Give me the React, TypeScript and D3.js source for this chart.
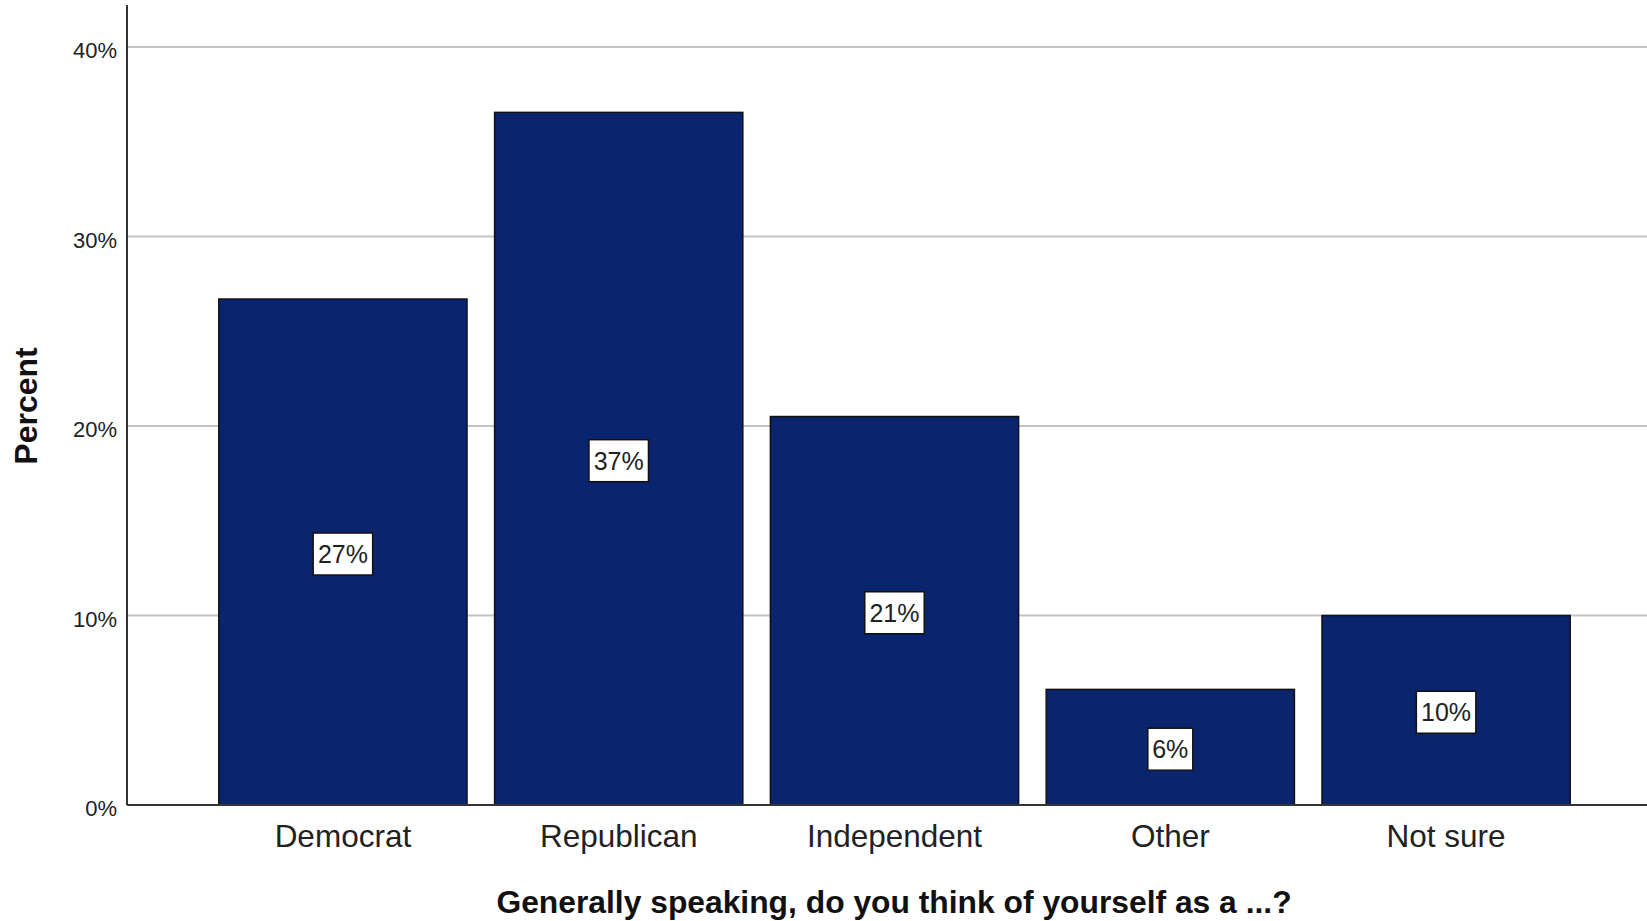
import React from "react";
import * as d3 from "d3";

const categories = ["Democrat", "Republican", "Independent", "Other", "Not sure"];
const percents = [26.7, 36.55, 20.5, 6.1, 10.0];
const yTicks = [0, 10, 20, 30, 40];
const xTitle = "Generally speaking, do you think of yourself as a ...?";
const yTitle = "Percent";

const W = 1647;
const H = 921;
const FONT = "'Liberation Sans', Arial, Helvetica, sans-serif";
const BAR_FILL = "#0a246e";

export default function App() {
  const axisX = 127;
  const axisTop = 5;
  const y = d3.scaleLinear().domain([0, 40]).range([805, 47]);
  const x = d3
    .scaleBand<string>()
    .domain(categories)
    .range([205, 1584])
    .paddingInner(0.1)
    .paddingOuter(0.05);
  const bw = x.bandwidth();
  const y0 = y(0);

  return (
    <svg
      width={W}
      height={H}
      style={{ position: "absolute", left: 0, top: 0, display: "block", background: "#fff" }}
      fontFamily={FONT}
    >
      <rect x={0} y={0} width={W} height={H} fill="#fff" />
      {/* gridlines */}
      {yTicks
        .filter((t) => t > 0)
        .map((t) => (
          <line key={"g" + t} x1={axisX} x2={W} y1={y(t)} y2={y(t)} stroke="#c4c4c4" strokeWidth={2} />
        ))}
      {/* y tick labels */}
      {yTicks.map((t) => (
        <text
          key={"t" + t}
          x={axisX - 10}
          y={y(t) + 11}
          textAnchor="end"
          fontSize={22}
          fill="#222"
        >
          {d3.format(".0f")(t) + "%"}
        </text>
      ))}
      {/* bars */}
      {categories.map((c, i) => {
        const v = percents[i];
        const bx = x(c) as number;
        const by = y(v);
        return (
          <rect
            key={"b" + c}
            x={bx}
            y={by}
            width={bw}
            height={y0 - by}
            fill={BAR_FILL}
            stroke="#111"
            strokeWidth={1.5}
          />
        );
      })}
      {/* value labels */}
      {categories.map((c, i) => {
        const v = percents[i];
        const cx = (x(c) as number) + bw / 2;
        const cy = (y(v) + y0) / 2 + 2;
        const label = Math.round(v) + "%";
        const tw = label.length * 14.5 + 6;
        const bwid = tw + 10;
        return (
          <g key={"l" + c}>
            <rect
              x={cx - bwid / 2}
              y={cy - 21}
              width={bwid}
              height={42}
              fill="#fff"
              stroke="#111"
              strokeWidth={1.5}
            />
            <text x={cx} y={cy + 9} textAnchor="middle" fontSize={25} fill="#222">
              {label}
            </text>
          </g>
        );
      })}
      {/* axes */}
      <line x1={axisX} x2={axisX} y1={axisTop} y2={y0} stroke="#333" strokeWidth={2} />
      <line x1={axisX} x2={W} y1={y0} y2={y0} stroke="#333" strokeWidth={2} />
      {/* category labels */}
      {categories.map((c) => (
        <text
          key={"c" + c}
          x={(x(c) as number) + bw / 2}
          y={847}
          textAnchor="middle"
          fontSize={31.5}
          fill="#222"
        >
          {c}
        </text>
      ))}
      {/* axis titles */}
      <text x={894} y={913} textAnchor="middle" fontSize={31.8} fontWeight="bold" fill="#111">
        {xTitle}
      </text>
      <text
        transform={`translate(37,406) rotate(-90)`}
        textAnchor="middle"
        fontSize={32}
        fontWeight="bold"
        fill="#111"
      >
        {yTitle}
      </text>
    </svg>
  );
}
